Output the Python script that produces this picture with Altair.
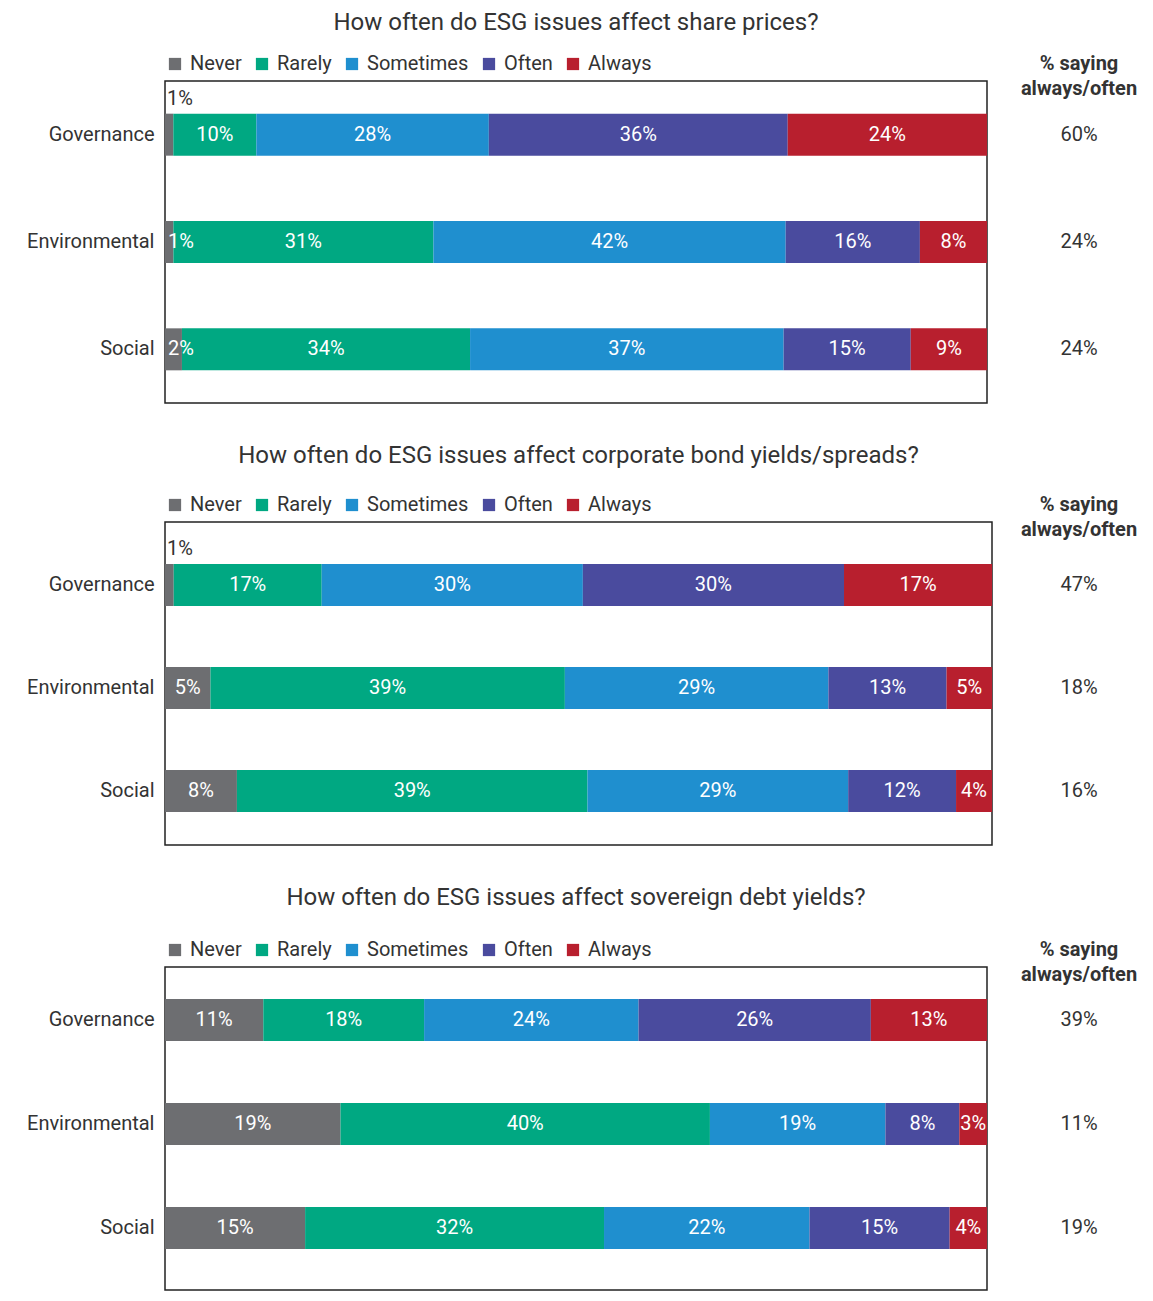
import altair as alt
import pandas as pd

CATEGORIES = ["Governance", "Environmental", "Social"]
RESPONSES = ["Never", "Rarely", "Sometimes", "Often", "Always"]
COLORS = ["#6d6e71", "#00a882", "#1f8fcf", "#4a4b9e", "#b81f2e"]

TITLES = [
    "How often do ESG issues affect share prices?",
    "How often do ESG issues affect corporate bond yields/spreads?",
    "How often do ESG issues affect sovereign debt yields?",
]

# Values per category: Never, Rarely, Sometimes, Often, Always
SHARE_GOVERNANCE = [1, 10, 28, 36, 24]
SHARE_ENVIRONMENTAL = [1, 31, 42, 16, 8]
SHARE_SOCIAL = [2, 34, 37, 15, 9]
SHARE_ALWAYS_OFTEN = [60, 24, 24]

BOND_GOVERNANCE = [1, 17, 30, 30, 17]
BOND_ENVIRONMENTAL = [5, 39, 29, 13, 5]
BOND_SOCIAL = [8, 39, 29, 12, 4]
BOND_ALWAYS_OFTEN = [47, 18, 16]

SOV_GOVERNANCE = [11, 18, 24, 26, 13]
SOV_ENVIRONMENTAL = [19, 40, 19, 8, 3]
SOV_SOCIAL = [15, 32, 22, 15, 4]
SOV_ALWAYS_OFTEN = [39, 11, 19]

HEADER = "% saying\nalways/often"

PANELS = [
    (TITLES[0], [SHARE_GOVERNANCE, SHARE_ENVIRONMENTAL, SHARE_SOCIAL], SHARE_ALWAYS_OFTEN),
    (TITLES[1], [BOND_GOVERNANCE, BOND_ENVIRONMENTAL, BOND_SOCIAL], BOND_ALWAYS_OFTEN),
    (TITLES[2], [SOV_GOVERNANCE, SOV_ENVIRONMENTAL, SOV_SOCIAL], SOV_ALWAYS_OFTEN),
]

# layout (not data): width, height, band outer padding, band align, title offset
SIZES = [(822, 322, 0.0, 0.5, 19), (827, 323, 0.068, 0.82, 27), (822, 323, 0.053, 0.1, 30)]
RIGHT_X = 914
FONT = "Roboto"
TXT = "#333333"


def panel(title, rows, ao, size):
    w, h, pad_outer, align, toff = size
    recs = []
    for cat, vals in zip(CATEGORIES, rows):
        for i, (resp, v) in enumerate(zip(RESPONSES, vals)):
            recs.append({"category": cat, "response": resp, "order": i,
                         "value": v, "label": f"{v}%"})
    df = pd.DataFrame(recs)
    ao_df = pd.DataFrame({"category": CATEGORIES, "ao": [f"{v}%" for v in ao]})

    yenc = alt.Y("category:N", sort=CATEGORIES,
                 scale=alt.Scale(paddingInner=0, paddingOuter=pad_outer, align=align),
                 axis=alt.Axis(title=None, ticks=False, domain=False, labelFontSize=20,
                               labelPadding=11, labelColor=TXT, labelFont=FONT))
    xscale = alt.Scale(domain=[0, 1], nice=False, zero=True)

    base = alt.Chart(df).transform_joinaggregate(
        total="sum(value)", groupby=["category"]
    ).transform_calculate(
        frac="datum.value / datum.total"
    ).transform_window(
        end="sum(frac)", groupby=["category"], sort=[alt.SortField("order")], frame=[None, 0]
    ).transform_calculate(
        start="datum.end - datum.frac", mid="datum.end - datum.frac / 2"
    )

    bars = base.mark_bar(size=42).encode(
        x=alt.X("start:Q", scale=xscale, axis=None),
        x2="end:Q",
        y=yenc,
        color=alt.Color("response:N", sort=RESPONSES,
                        scale=alt.Scale(domain=RESPONSES, range=COLORS),
                        legend=alt.Legend(title=None, orient="top", direction="horizontal",
                                          symbolType="square", symbolSize=150,
                                          symbolStrokeWidth=0, labelFontSize=20,
                                          labelFont=FONT, labelColor=TXT,
                                          columnPadding=10, labelOffset=5, offset=7,
                                          padding=0)),
        order=alt.Order("order:Q"),
    )

    center_lbl = base.transform_filter("datum.value >= 3").mark_text(
        fontSize=20, font=FONT, color="white"
    ).encode(x=alt.X("mid:Q", scale=xscale), y=alt.Y("category:N", sort=CATEGORIES), text="label:N")

    left_lbl = base.transform_filter(
        "datum.value <= 2 && datum.category != 'Governance'"
    ).mark_text(fontSize=20, font=FONT, color="white", align="left", dx=3).encode(
        x=alt.X("start:Q", scale=xscale), y=alt.Y("category:N", sort=CATEGORIES), text="label:N")

    above_lbl = base.transform_filter(
        "datum.value <= 2 && datum.category == 'Governance'"
    ).mark_text(fontSize=20, font=FONT, color=TXT, align="left", dx=2, dy=-36).encode(
        x=alt.X("start:Q", scale=xscale), y=alt.Y("category:N", sort=CATEGORIES), text="label:N")

    right_col = alt.Chart(ao_df).mark_text(fontSize=20, font=FONT, color=TXT).encode(
        x=alt.value(RIGHT_X), y=alt.Y("category:N", sort=CATEGORIES), text="ao:N")

    header = alt.Chart(pd.DataFrame({"h": [HEADER]})).mark_text(
        fontSize=20, font=FONT, color=TXT, fontWeight="bold", lineBreak="\n",
        baseline="middle", lineHeight=25
    ).encode(x=alt.value(RIGHT_X), y=alt.value(-17), text="h:N")

    return alt.layer(bars, center_lbl, left_lbl, above_lbl, right_col, header).properties(
        width=w, height=h,
        title=alt.TitleParams(title, fontSize=24, fontWeight="normal", color=TXT,
                              anchor="middle", frame="group", offset=toff, font=FONT),
    )


charts = [panel(t, r, a, s) for (t, r, a), s in zip(PANELS, SIZES)]

chart = alt.vconcat(*charts, spacing=39).resolve_scale(
    color="independent", x="independent", y="independent"
).resolve_legend(color="independent").properties(
    padding={"left": 17, "top": 2, "right": 5, "bottom": 5}
).configure(font=FONT).configure_view(
    stroke="#222222", strokeWidth=1.5
)

chart.save("out.html", embed_options={"renderer": "svg", "actions": False})
